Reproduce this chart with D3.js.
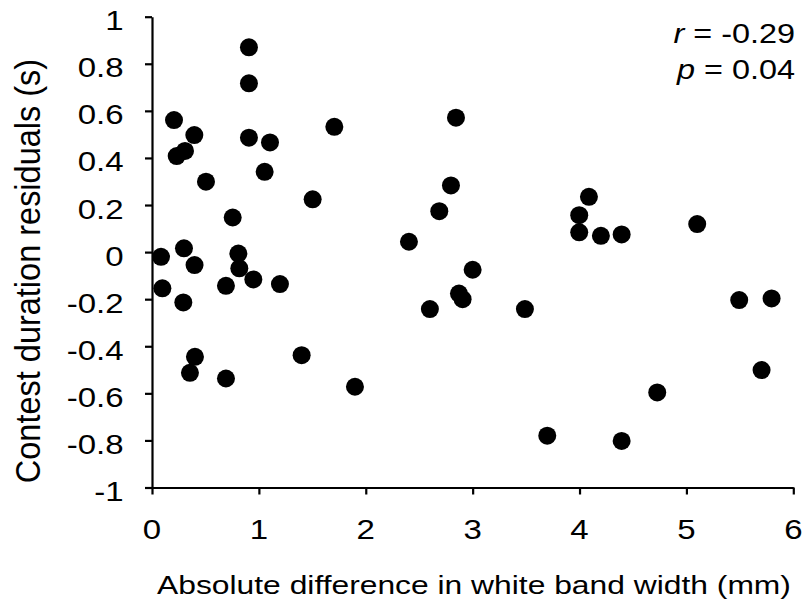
<!DOCTYPE html>
<html>
<head>
<meta charset="utf-8">
<script src="https://cdn.jsdelivr.net/npm/d3@7"></script>
<style>
  html, body { margin: 0; padding: 0; background: #fff; }
  svg { display: block; }
  text { font-family: "Liberation Sans", Arial, sans-serif; fill: #000; }
</style>
</head>
<body>
<svg id="chart" width="805" height="609"></svg>
<script>
// ---- data ----
const xValues = [0.907, 0.907, 0.206, 0.396, 0.231, 0.309, 0.907, 1.104, 1.706, 0.505,
                 1.054, 1.503, 0.755, 0.084, 0.299, 0.398, 0.808, 0.817, 0.948, 1.197,
                 0.692, 0.097, 0.293, 0.402, 0.355, 0.692, 1.400, 1.899, 2.844, 2.797,
                 2.688, 2.404, 3.000, 4.088, 3.997, 3.997, 4.200, 4.394, 5.101, 2.600,
                 2.872, 2.906, 3.489, 5.494, 5.797, 5.703, 4.727, 3.698, 4.394];
const yValues = [0.870, 0.717, 0.561, 0.497, 0.408, 0.430, 0.486, 0.466, 0.532, 0.299,
                 0.341, 0.224, 0.147, -0.020, 0.016, -0.055, -0.006, -0.069, -0.116, -0.136,
                 -0.143, -0.154, -0.214, -0.445, -0.513, -0.537, -0.438, -0.572, 0.571, 0.283,
                 0.174, 0.044, -0.075, 0.235, 0.157, 0.084, 0.069, 0.075, 0.119, -0.242,
                 -0.176, -0.200, -0.242, -0.204, -0.197, -0.501, -0.596, -0.780, -0.802];
const xTicks = [0, 1, 2, 3, 4, 5, 6];
const xTickLabels = ["0", "1", "2", "3", "4", "5", "6"];
const yTicks = [1, 0.8, 0.6, 0.4, 0.2, 0, -0.2, -0.4, -0.6, -0.8, -1];
const yTickLabels = ["1", "0.8", "0.6", "0.4", "0.2", "0", "-0.2", "-0.4", "-0.6", "-0.8", "-1"];
const xTitle = "Absolute difference in white band width (mm)";
const yTitle = "Contest duration residuals (s)";
const statR = "-0.29";
const statP = "0.04";

// ---- layout ----
const svg = d3.select("#chart");
const x = d3.scaleLinear().domain([0, 6]).range([152, 793.3]);
const y = d3.scaleLinear().domain([-1, 1]).range([487.5, 16.7]);
const SX = 1.2; // horizontal text stretch

// axes
const xAxis = d3.axisBottom(x).tickValues(xTicks).tickSize(7).tickSizeOuter(0).tickFormat(() => "");
const yAxis = d3.axisLeft(y).tickValues(yTicks).tickSize(7).tickSizeOuter(0).tickFormat(() => "");

const gx = svg.append("g").attr("transform", `translate(0,${y(-1)})`).call(xAxis);
const gy = svg.append("g").attr("transform", `translate(${x(0)},0)`).call(yAxis);
[gx, gy].forEach(g => {
  g.selectAll("path, line").attr("stroke", "#000").attr("stroke-width", 2.2);
  g.selectAll("text").remove();
});

// tick labels
svg.append("g").selectAll("text").data(xTicks).join("text")
  .attr("transform", d => `translate(${x(d)},538.5) scale(${SX},1)`)
  .attr("text-anchor", "middle")
  .attr("font-size", 27.5)
  .text((d, i) => xTickLabels[i]);

svg.append("g").selectAll("text").data(yTicks).join("text")
  .attr("transform", d => `translate(123.5,${y(d) + 13.5}) scale(${SX},1)`)
  .attr("text-anchor", "end")
  .attr("font-size", 27.5)
  .text((d, i) => yTickLabels[i]);

// axis titles
svg.append("text")
  .attr("transform", `translate(474,593.5) scale(${SX},1)`)
  .attr("text-anchor", "middle")
  .attr("font-size", 26.5)
  .text(xTitle);

svg.append("text")
  .attr("transform", `translate(40,271) scale(1.08,1) rotate(-90)`)
  .attr("text-anchor", "middle")
  .attr("font-size", 32.5)
  .text(yTitle);

// stats annotation
const tR = svg.append("text")
  .attr("transform", `translate(795,42.7) scale(${SX},1)`)
  .attr("text-anchor", "end").attr("font-size", 27);
tR.append("tspan").attr("font-style", "italic").text("r");
tR.append("tspan").text(" = " + statR);
const tP = svg.append("text")
  .attr("transform", `translate(795,79) scale(${SX},1)`)
  .attr("text-anchor", "end").attr("font-size", 27);
tP.append("tspan").attr("font-style", "italic").text("p");
tP.append("tspan").text(" = " + statP);

// points
svg.append("g").selectAll("circle").data(xValues).join("circle")
  .attr("cx", d => x(d))
  .attr("cy", (d, i) => y(yValues[i]))
  .attr("r", 9)
  .attr("fill", "#000");
</script>
</body>
</html>
